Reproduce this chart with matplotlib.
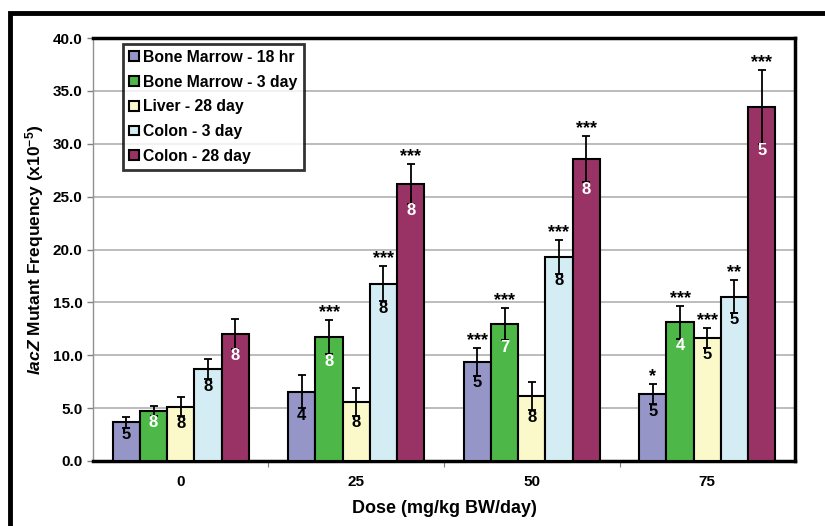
import numpy as np
import matplotlib
matplotlib.use("Agg")
from matplotlib import pyplot as plt
from matplotlib.patches import Rectangle

plt.rcParams['font.family'] = ['Liberation Sans', 'DejaVu Sans']
plt.rcParams['font.weight'] = 'bold'
plt.rcParams['mathtext.fontset'] = 'custom'
plt.rcParams['mathtext.rm'] = 'Liberation Sans:bold'
plt.rcParams['mathtext.it'] = 'Liberation Sans:italic:bold'

doses = ['0', '25', '50', '75']
series = ['Bone Marrow - 18 hr', 'Bone Marrow - 3 day', 'Liver - 28 day',
          'Colon - 3 day', 'Colon - 28 day']
colores = ['#9595C8', '#4DB848', '#FBF8C9', '#D4ECF3', '#993366']
color_n = ['black', 'white', 'black', 'black', 'white']

# media de mutantes por serie (filas) y dosis (columnas)
medias = [
    [3.65, 6.55, 9.35, 6.3],
    [4.75, 11.7, 12.95, 13.1],
    [5.15, 5.6, 6.15, 11.65],
    [8.7, 16.75, 19.3, 15.55],
    [12.0, 26.2, 28.55, 33.5],
]
errores = [
    [0.5, 1.55, 1.3, 0.95],
    [0.45, 1.6, 1.55, 1.55],
    [0.9, 1.3, 1.35, 0.95],
    [0.95, 1.65, 1.6, 1.55],
    [1.4, 1.85, 2.2, 3.5],
]
n_animales = [
    [5, 4, 5, 5],
    [8, 8, 7, 4],
    [8, 8, 8, 5],
    [8, 8, 8, 5],
    [8, 8, 8, 5],
]
estrellas = [
    ['', '', '***', '*'],
    ['', '***', '***', '***'],
    ['', '', '', '***'],
    ['', '***', '***', '**'],
    ['', '***', '***', '***'],
]

fig = plt.figure(figsize=(8.25, 5.26), dpi=100)
ax = fig.add_axes([0.1127, 0.1236, 0.851, 0.804])

x = np.arange(len(doses))
ancho = 0.155
for i in range(len(series)):
    pos = x + (i - 2) * ancho
    ax.bar(pos, medias[i], ancho, color=colores[i], edgecolor='black',
           linewidth=1.5, label=series[i], zorder=3)
    ax.errorbar(pos, medias[i], yerr=errores[i], fmt='none', ecolor='black',
                elinewidth=1.3, capsize=3, capthick=1.3, zorder=4)
    for j in range(len(doses)):
        abajo = medias[i][j] - errores[i][j]
        ax.text(pos[j], abajo + 0.05, str(n_animales[i][j]), ha='center', va='top',
                color=color_n[i], fontsize=12, fontweight='bold', zorder=5)
        if estrellas[i][j]:
            ax.text(pos[j], medias[i][j] + errores[i][j] - 0.1, estrellas[i][j],
                    ha='center', va='bottom', fontsize=13, fontweight='bold', zorder=5)

ax.set_xlim(-0.5, 3.5)
ax.set_ylim(0, 40)
ax.set_yticks(np.arange(0, 40.1, 5))
ax.set_yticklabels(['%.1f' % v for v in np.arange(0, 40.1, 5)])
ax.set_xticks(x)
ax.set_xticklabels(doses)
ax.set_xticks([0.5, 1.5, 2.5], minor=True)
ax.tick_params(axis='x', which='major', length=0, labelsize=11, pad=10)
ax.tick_params(axis='x', which='minor', length=4, width=0.8, color='gray')
ax.tick_params(axis='y', labelsize=11, length=4, width=1, color='gray')
ax.yaxis.grid(True, color='#B0B0B0', linewidth=1.2, zorder=0)
for s in ax.spines.values():
    s.set_linewidth(2.5)
ax.spines['left'].set_linewidth(1)
ax.spines['left'].set_color('#909090')

ax.set_xlabel('Dose (mg/kg BW/day)', fontsize=13, fontweight='bold', labelpad=8)
ax.set_ylabel(r'$\mathit{lacZ}$ Mutant Frequency (x10$^{\mathrm{-5}}$)',
              fontsize=12.5, fontweight='bold', labelpad=5)

leg = ax.legend(loc='upper left', bbox_to_anchor=(0.035, 1.0), fontsize=11.3,
                frameon=True, fancybox=False, edgecolor='black', handlelength=0.6,
                handleheight=0.6, handletextpad=0.3, labelspacing=0.62,
                borderpad=0.4, borderaxespad=0.35)
leg.get_frame().set_linewidth(2)

# marco exterior de la figura
fig.patches.append(Rectangle((0.012, -0.05), 1.1, 1.025, transform=fig.transFigure,
                             fill=False, edgecolor='black', linewidth=3.5))

fig.savefig('out.png', dpi=100)
